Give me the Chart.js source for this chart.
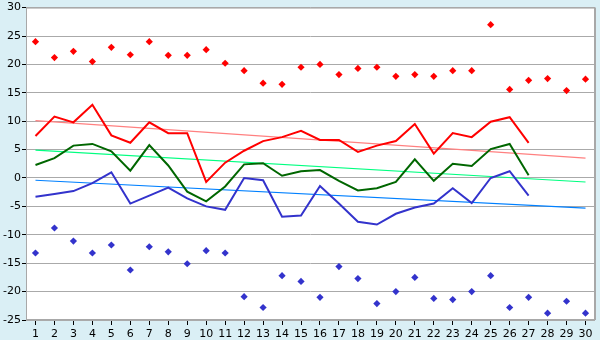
<!DOCTYPE html>
<html>
<head>
<meta charset="utf-8">
<script src="https://cdn.jsdelivr.net/npm/chart.js@4"></script>
<style>
    html, body { margin: 0; padding: 0; background: #daeff5; }
    canvas { display: block; }
</style>
</head>
<body>
<canvas id="chart" width="600" height="340"></canvas>
<script>
// Days of the month
const days = Array.from({ length: 30 }, (_, i) => String(i + 1));

// Daily extremes (scatter markers)
const maxPoints = [24.0, 21.2, 22.3, 20.5, 23.0, 21.7, 24.0, 21.6, 21.6, 22.6, 20.2, 18.9, 16.7, 16.5, 19.5,
    20.0, 18.2, 19.3, 19.5, 17.9, 18.2, 17.9, 18.9, 18.9, 27.0, 15.6, 17.2, 17.5, 15.4, 17.4];
const minPoints = [-13.2, -8.8, -11.1, -13.2, -11.8, -16.2, -12.1, -13.0, -15.1, -12.8, -13.2, -20.9, -22.8, -17.2, -18.2,
    -21.0, -15.6, -17.7, -22.1, -20.0, -17.5, -21.2, -21.4, -20.0, -17.2, -22.8, -21.0, -23.8, -21.7, -23.8];

// Daily series (only 27 days so far)
const highLine = [7.4, 10.8, 9.8, 12.9, 7.5, 6.2, 9.8, 7.9, 7.9, -0.7, 2.7, 4.8, 6.5, 7.2, 8.3,
    6.7, 6.7, 4.6, 5.7, 6.5, 9.5, 4.3, 7.9, 7.2, 9.9, 10.7, 6.2];
const meanLine = [2.3, 3.5, 5.7, 6.0, 4.7, 1.3, 5.8, 2.2, -2.4, -4.1, -1.5, 2.4, 2.6, 0.4, 1.2,
    1.4, -0.5, -2.2, -1.8, -0.7, 3.3, -0.5, 2.5, 2.1, 5.1, 6.0, 0.5];
const lowLine = [-3.3, -2.8, -2.3, -0.9, 1.0, -4.5, -3.1, -1.7, -3.6, -5.0, -5.6, 0.0, -0.4, -6.8, -6.6,
    -1.4, -4.5, -7.7, -8.2, -6.3, -5.2, -4.5, -1.8, -4.4, 0.0, 1.2, -3.1];

// Trend endpoints (day 1 and day 30)
const highTrend = [10.1, 3.5];
const meanTrend = [4.9, -0.7];
const lowTrend = [-0.4, -5.3];

// Y axis ticks
const yMin = -25;
const yMax = 30;
const yStep = 5;

function trendData(ends) {
    const d = new Array(days.length).fill(null);
    d[0] = ends[0];
    d[days.length - 1] = ends[1];
    return d;
}

// Background fill and the frame around the plot area
const framePlugin = {
    id: "frame",
    beforeDraw(chart) {
        const ctx = chart.ctx;
        ctx.save();
        ctx.fillStyle = "#daeff5";
        ctx.fillRect(0, 0, chart.width, chart.height);
        const a = chart.chartArea;
        ctx.fillStyle = "#ffffff";
        ctx.fillRect(a.left, a.top, a.right - a.left, a.bottom - a.top);
        ctx.restore();
    },
    beforeDatasetsDraw(chart) {
        const ctx = chart.ctx;
        const a = chart.chartArea;
        ctx.save();
        ctx.strokeStyle = "#a8a8a8";
        ctx.lineWidth = 1;
        ctx.strokeRect(a.left + 0.5, a.top + 0.5, a.right - a.left - 1, a.bottom - a.top - 1);
        ctx.lineWidth = 2;
        ctx.beginPath();
        ctx.moveTo(a.right, a.top);
        ctx.lineTo(a.right, a.bottom);
        ctx.stroke();
        ctx.restore();
    }
};

const lineStyle = (data, color, width) => ({
    type: "line",
    data: data,
    borderColor: color,
    backgroundColor: color,
    borderWidth: width,
    pointRadius: 0,
    tension: 0,
    fill: false,
    spanGaps: true
});

const markerStyle = (data, color) => ({
    type: "line",
    data: data,
    showLine: false,
    pointStyle: "rectRot",
    pointRadius: 3.6,
    pointBorderWidth: 0,
    pointBackgroundColor: color,
    borderColor: color
});

new Chart(document.getElementById("chart"), {
    type: "line",
    data: {
        labels: days,
        datasets: [
            markerStyle(maxPoints, "#ff0000"),
            markerStyle(minPoints, "#3333cc"),
            lineStyle(highLine, "#ff0000", 2),
            lineStyle(meanLine, "#006600", 2),
            lineStyle(lowLine, "#3333cc", 2),
            lineStyle(trendData(highTrend), "#ff8080", 1.2),
            lineStyle(trendData(meanTrend), "#00ff80", 1.2),
            lineStyle(trendData(lowTrend), "#0080ff", 1.2)
        ]
    },
    options: {
        responsive: false,
        animation: false,
        layout: { padding: { top: 5, right: 5, left: 0, bottom: 0 } },
        plugins: {
            legend: { display: false },
            tooltip: { enabled: false }
        },
        scales: {
            x: {
                offset: true,
                grid: {
                    drawOnChartArea: false,
                    drawTicks: true,
                    tickLength: 5,
                    tickColor: "#000000"
                },
                border: { display: false },
                ticks: {
                    color: "#000000",
                    font: { family: "DejaVu Sans", size: 11 },
                    padding: 3,
                    maxRotation: 0,
                    autoSkip: false
                },
                afterFit(scale) { scale.height = 20; }
            },
            y: {
                min: yMin,
                max: yMax,
                grid: {
                    color: "#aaaaaa",
                    tickLength: 4,
                    tickColor: "#000000"
                },
                border: { display: false },
                ticks: {
                    stepSize: yStep,
                    color: "#000000",
                    font: { family: "DejaVu Sans", size: 11 },
                    padding: 1
                },
                afterFit(scale) { scale.width = 26; }
            }
        }
    },
    plugins: [framePlugin]
});
</script>
</body>
</html>
